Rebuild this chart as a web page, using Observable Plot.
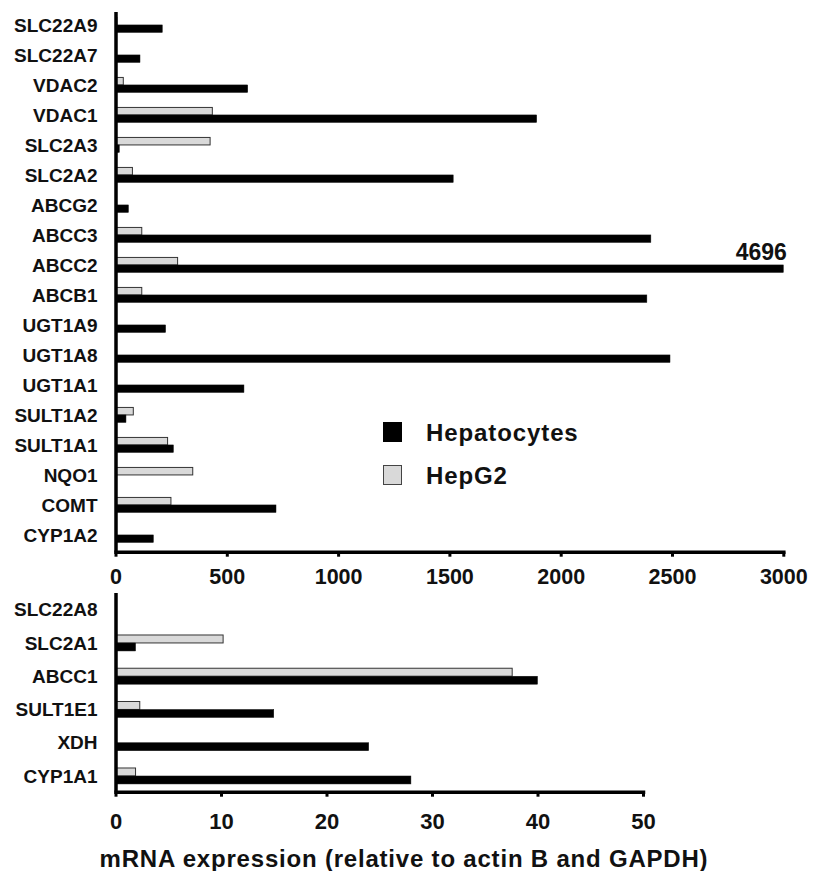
<!DOCTYPE html>
<html><head><meta charset="utf-8">
<script src="https://cdn.jsdelivr.net/npm/d3@7"></script>
<script src="https://cdn.jsdelivr.net/npm/@observablehq/plot@0.6"></script>
<style>
body{margin:0;background:#fff;font-family:"Liberation Sans",Arial,sans-serif;}
#wrap{position:relative;width:813px;height:871px;overflow:hidden;}
#wrap svg{display:block;position:absolute;left:0;}
.lg-box{position:absolute;width:19px;height:20px;box-sizing:border-box;}
.lg-txt{position:absolute;font-weight:bold;font-size:24px;letter-spacing:0.9px;color:#111;line-height:24px;white-space:nowrap;}
#xtitle{position:absolute;left:0;width:808px;text-align:center;top:846px;font-weight:bold;font-size:24px;letter-spacing:0.8px;color:#111;line-height:26px;white-space:nowrap;}
</style></head><body><div id="wrap"></div>
<script>
// ---- data ----
const topGenes = ["SLC22A9","SLC22A7","VDAC2","VDAC1","SLC2A3","SLC2A2","ABCG2","ABCC3","ABCC2","ABCB1","UGT1A9","UGT1A8","UGT1A1","SULT1A2","SULT1A1","NQO1","COMT","CYP1A2"];
const topHepatocytes = [210,110,594,1892,17,1517,58,2405,4696,2387,225,2491,577,47,260,0,721,170];
const topHepG2 =       [6,0,35,435,425,76,0,118,279,118,0,0,0,80,234,347,249,0];
const bottomGenes = ["SLC22A8","SLC2A1","ABCC1","SULT1E1","XDH","CYP1A1"];
const bottomHepatocytes = [0,1.9,40.0,15.0,24.0,28.0];
const bottomHepG2 =       [0,10.2,37.6,2.3,0,1.9];
const topTicks = [0,500,1000,1500,2000,2500,3000];
const bottomTicks = [0,10,20,30,40,50];
const seriesNames = ["Hepatocytes","HepG2"];
const seriesFill = ["#000000","#d9d9d9"];
const truncatedLabel = "4696";
const axisTitle = "mRNA expression (relative to actin B and GAPDH)";

// ---- build tables ----
function rows(genes, hep, hepg2){
  const out = [];
  genes.forEach((g,i)=>{
    if (hepg2[i] > 0) out.push({gene:g, series:seriesNames[1], value:hepg2[i]});
    if (hep[i] > 0) out.push({gene:g, series:seriesNames[0], value:hep[i]});
  });
  return out;
}
const topData = rows(topGenes, topHepatocytes, topHepG2);
const botData = rows(bottomGenes, bottomHepatocytes, bottomHepG2);
const font = '"Liberation Sans", Arial, sans-serif';

function panel({data, genes, domain, ticks, height, marginTop, marginBottom, marginRight, pi, po, align, half, fontX, padX, extra=[]}){
  return Plot.plot({
    width: 813, height, marginLeft: 115.5, marginRight, marginTop, marginBottom,
    style: {fontFamily: font, background: "#fff", color: "#111"},
    x: {domain, clamp: true, label: null},
    y: {domain: genes, paddingInner: pi, paddingOuter: po, align, round: false, label: null},
    marks: [
      Plot.barX(data.filter(d=>d.series===seriesNames[1]), {x:"value", y:"gene", fill: seriesFill[1], stroke:"#333", strokeWidth:1, insetBottom: half}),
      Plot.barX(data.filter(d=>d.series===seriesNames[0]), {x:"value", y:"gene", fill: seriesFill[0], stroke:"#111", strokeWidth:0.5, insetTop: half}),
      ...extra,
      Plot.ruleX([0], {stroke:"#000", strokeWidth:3.5}),
      Plot.frame({anchor:"bottom", stroke:"#000", strokeWidth:3.5}),
      Plot.axisY({tickSize:0, tickPadding:18.5, fontSize:19, fontWeight:"bold", fill:"#111"}),
      Plot.axisX({ticks, tickSize:5, tickPadding:padX, fontSize:fontX, fontWeight:"bold", fill:"#111", stroke:"#000", strokeWidth:3, tickFormat: d3.format("d")})
    ]
  });
}

const wrap = document.getElementById("wrap");

const topPanel = panel({
  data: topData, genes: topGenes, domain:[0,3000], ticks: topTicks,
  height: 590, marginTop: 12, marginBottom: 38.3, marginRight: 29.7,
  pi: 0.5, po: 0.245, align: 0.37, half: 7.5, fontX: 21.5, padX: 12,
  extra: [
    Plot.text(topData.filter(d=>d.value>3000), {x:"value", y:"gene", text: ()=>truncatedLabel, textAnchor:"end", dx: 3, dy:-13, fontSize:23, fontWeight:"bold", fill:"#111"})
  ]
});
topPanel.style.top = "0px";
wrap.appendChild(topPanel);

const botPanel = panel({
  data: botData, genes: bottomGenes, domain:[0,50], ticks: bottomTicks,
  height: 245, marginTop: 3, marginBottom: 245-201.7, marginRight: 170,
  pi: 0.52, po: 0.248, align: 0.53, half: 8, fontX: 22, padX: 16
});
botPanel.style.top = "590px";
wrap.appendChild(botPanel);

// legend
const lg = [
  {name: seriesNames[0], fill: seriesFill[0], stroke:"#000", y: 422},
  {name: seriesNames[1], fill: seriesFill[1], stroke:"#444", y: 465}
];
lg.forEach(l=>{
  const b = document.createElement("div");
  b.className = "lg-box";
  b.style.left = "383px"; b.style.top = l.y + "px";
  b.style.background = l.fill; b.style.border = "1.5px solid " + l.stroke;
  wrap.appendChild(b);
  const t = document.createElement("div");
  t.className = "lg-txt";
  t.style.left = "426px"; t.style.top = (l.y - 1) + "px";
  t.textContent = l.name;
  wrap.appendChild(t);
});

const xt = document.createElement("div");
xt.id = "xtitle";
xt.textContent = axisTitle;
wrap.appendChild(xt);
</script>
</body></html>
